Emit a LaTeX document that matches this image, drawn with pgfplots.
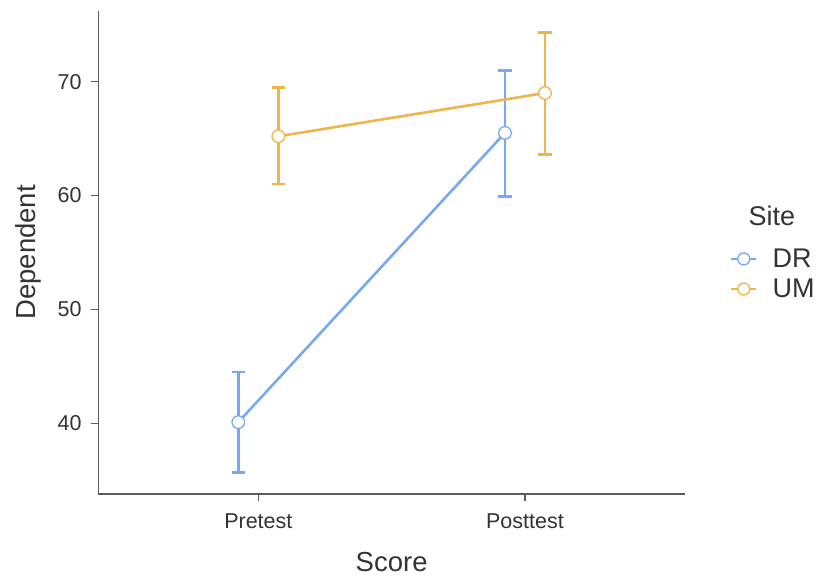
\documentclass[border=0pt]{standalone}
\usepackage{fontspec}
\setmainfont{Liberation Sans}
\usepackage{pgfplots}
\usepackage{pgfplotstable}
\pgfplotsset{compat=1.18}
\definecolor{drblue}{HTML}{78A8F0}
\definecolor{umorange}{HTML}{EFB44A}
\definecolor{txt}{HTML}{333333}
\definecolor{axgray}{HTML}{5A5A5A}

\pgfplotstableread{
x y ep em
0.925 40.1 4.4 4.4
1.925 65.5 5.5 5.6
}\drdata
\pgfplotstableread{
x y ep em
1.075 65.2 4.3 4.2
2.075 69.0 5.3 5.4
}\umdata

\begin{document}
\begin{tikzpicture}
\useasboundingbox (-98.3pt,-83pt) rectangle (717.7pt,494pt);
\begin{axis}[
  at={(0pt,0pt)}, anchor=south west,
  scale only axis, width=586.7pt, height=483.3pt,
  xmin=0.4, xmax=2.6, ymin=33.79, ymax=76.23,
  axis x line*=bottom, axis y line*=left,
  xtick={1,2}, xticklabels={Pretest,Posttest},
  ytick={40,50,60,70},
  tick align=outside, major tick length=7pt,
  tick style={axgray, line width=1.4pt},
  axis line style={axgray, line width=1.4pt},
  /pgf/number format/assume math mode=true,
  tick label style={font=\fontsize{21.5}{21.5}\selectfont, text=txt, inner sep=0pt},
  yticklabel style={anchor=east, xshift=-9.6pt},
  xticklabel style={anchor=north, yshift=-12.3pt},
  label style={font=\fontsize{27.5}{27.5}\selectfont, text=txt},
  xlabel={Score},
  ylabel={Dependent},
  xlabel style={at={(axis description cs:0.5,-0.1608)}, anchor=base},
  ylabel style={at={(axis description cs:-0.1078,0.5)}, anchor=base},
  legend style={at={(axis description cs:1.0767,0.5955)}, anchor=north west,
    draw=none, fill=none, inner sep=0pt, outer sep=0pt,
    font=\fontsize{27}{27}\selectfont, text=txt, row sep=10pt,
    nodes={inner sep=0pt},
    /tikz/every odd column/.append style={column sep=15pt}},
  legend cell align=left,
]
% error bars
\addplot[drblue, forget plot, draw=none, mark=none,
  error bars/.cd, y dir=both, y explicit, error mark=|,
  error bar style={line width=2.6pt, draw=drblue},
  error mark options={draw=drblue, line width=2.6pt, mark size=6.7pt}]
  table[x=x, y=y, y error plus=ep, y error minus=em] {\drdata};
\addplot[umorange, forget plot, draw=none, mark=none,
  error bars/.cd, y dir=both, y explicit, error mark=|,
  error bar style={line width=2.6pt, draw=umorange},
  error mark options={draw=umorange, line width=2.6pt, mark size=6.7pt}]
  table[x=x, y=y, y error plus=ep, y error minus=em] {\umdata};

\addlegendimage{empty legend}
\addlegendentry[yshift=22.2pt]{\hspace{-24pt}Site}

\addplot[drblue, line width=2.6pt, mark=*, mark size=6.3pt,
  mark options={fill=white, draw=drblue, line width=1.3pt, solid},
  legend image code/.code={
    \draw[drblue, line width=2.6pt] (0pt,0pt) -- (25pt,0pt);
    \draw[drblue, line width=1.3pt, fill=white] (12.5pt,0pt) circle (6pt);}]
  table[x=x, y=y] {\drdata};
\addlegendentry{DR}

\addplot[umorange, line width=2.6pt, mark=*, mark size=6.3pt,
  mark options={fill=white, draw=umorange, line width=1.3pt, solid},
  legend image code/.code={
    \draw[umorange, line width=2.6pt] (0pt,0pt) -- (25pt,0pt);
    \draw[umorange, line width=1.3pt, fill=white] (12.5pt,0pt) circle (6pt);}]
  table[x=x, y=y] {\umdata};
\addlegendentry{UM}
\end{axis}
\end{tikzpicture}
\end{document}
